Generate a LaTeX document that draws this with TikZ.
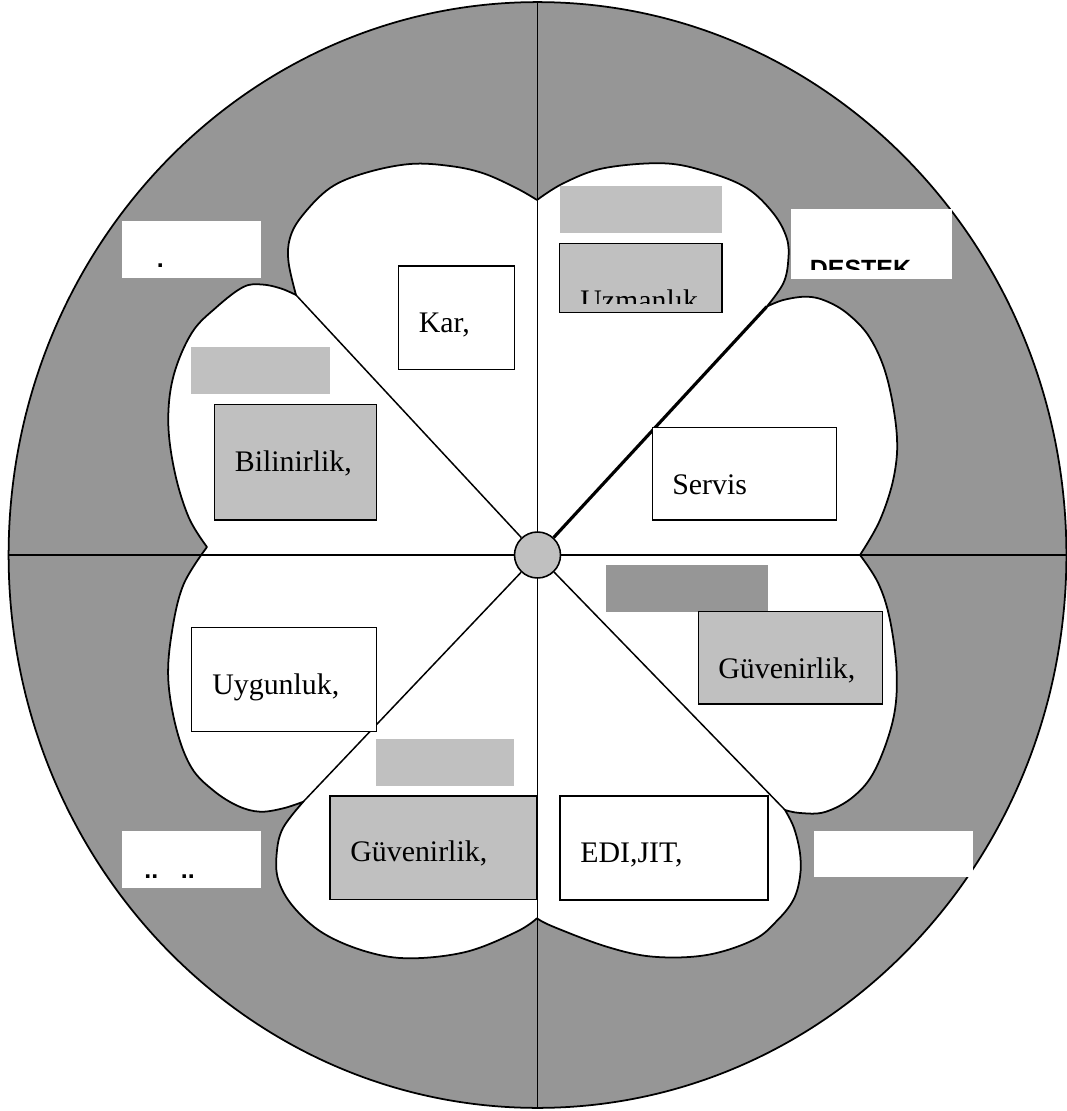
\documentclass[tikz,border=0pt]{standalone}
\usepackage{fontspec}
\setmainfont{Liberation Serif}
\newfontfamily\labelfont{Liberation Serif}
\newfontfamily\headfont{Liberation Sans}
\usetikzlibrary{fit}
\definecolor{ringgray}{RGB}{150,150,150}
\definecolor{panelgray}{RGB}{192,192,192}

\begin{document}
\begin{tikzpicture}[x=0.02cm, y=-0.02cm,
  outline/.style={line width=1pt, line join=round},
  spoke/.style={line width=0.85pt},
  boldspoke/.style={line width=1.8pt},
  tbox/.style={draw, line width=0.85pt, inner sep=0pt},
  graybox/.style={tbox, fill=panelgray},
  plainbox/.style={tbox, fill=white},
  lightbar/.style={fill=panelgray, inner sep=0pt},
  darkbar/.style={fill=ringgray, inner sep=0pt},
  tagbox/.style={fill=white, inner sep=0pt},
  lbl/.style={font=\labelfont\fontsize{17}{20}\selectfont, inner sep=0pt, anchor=base west},
  tag/.style={font=\headfont\bfseries\fontsize{14.2}{17}\selectfont, inner sep=0pt, anchor=base west},
]
\useasboundingbox (0,0) rectangle (1067,1111);

% outer ring
\filldraw[fill=ringgray, outline] (537.5,555) ellipse [x radius=10.58cm, y radius=11.06cm];

% eight-lobed flower
\filldraw[fill=white, outline] (296,295)
  -- plot[smooth, tension=0.6] coordinates {(296,295) (288.5,262) (290,238) (302,216) (330,188) (365,173) (410,164) (450,166) (483.3,173.3) (516.7,188.3) (537,200)}
  -- plot[smooth, tension=0.6] coordinates {(537,200) (563.3,183.3) (603.3,168.3) (663.3,163.3) (706.7,171.7) (746.7,188) (773.3,213.3) (786.7,238) (788.3,260) (783.3,283.3) (766.7,306.7)}
  -- plot[smooth, tension=0.6] coordinates {(766.7,306.7) (783.3,300) (806.7,296.7) (826,301) (848,314) (870,338) (886.7,376.7) (896.7,433.3) (894,476) (880,520) (860,555)}
  -- plot[smooth, tension=0.6] coordinates {(860,555) (878.3,583.3) (890,620) (896.7,673.3) (893,720) (875,770) (853.3,796.7) (825,812) (800,813) (785,810)}
  -- plot[smooth, tension=0.6] coordinates {(785,810) (794,828) (800,853.3) (800,876.7) (793.3,900) (776.7,921) (753.3,940) (706.7,955) (653.3,956.7) (606.7,946.7) (553.3,926.7) (537,918.3)}
  -- plot[smooth, tension=0.6] coordinates {(537,918.3) (516.7,931.7) (466.7,951.7) (410,958.3) (366.7,951.7) (323.3,933.3) (293.3,906.7) (278.3,880) (276.7,853.3) (283,828) (303.3,801.7)}
  -- plot[smooth, tension=0.6] coordinates {(303.3,801.7) (283.3,808.3) (260,811.7) (238,806) (214,791) (191.7,768) (176.7,730) (168.3,680) (171.7,633.3) (183.3,585) (207,547)}
  -- plot[smooth, tension=0.6] coordinates {(207,547) (189,518) (175,473.3) (168.3,423.3) (173.3,376.7) (191.7,333) (216.7,307) (243.3,287) (262,284.5) (281,288.5) (296,295)}
  -- cycle;

% end points of the axes and spokes
\coordinate (west)  at (8,555);
\coordinate (east)  at (1066,555);
\coordinate (north) at (537.5,2);
\coordinate (south) at (537.5,1108);
\coordinate (nUL) at (296,295);
\coordinate (nUR) at (766.7,306.7);
\coordinate (nLR) at (785,810);
\coordinate (nLL) at (303.3,801.7);

\draw[spoke] (west) -- (east);
\draw[spoke] (north) -- (south);

% hub and spokes
\node (hub) [circle, draw, fill=panelgray, line width=0.9pt, minimum size=0.92cm, inner sep=0pt] at (537.5,555) {};
\draw[spoke] (hub) -- (nUL);
\draw[boldspoke] (hub) -- (nUR);
\draw[spoke] (hub) -- (nLR);
\draw[spoke] (hub) -- (nLL);

% upper left
\node (tagUL) [tagbox, fit={(121.7,221) (261,277.7)}] {};
\node (dotUL) [tag] at (156.6,268) {.};
\node (barUL) [lightbar, fit={(191,347) (330,393.7)}] {};
\node (biliBox) [graybox, fit={(214.3,404.3) (376.7,520)}] {};
\node (bili) [lbl] at (234.5,471) {Bilinirlik,};
\node (karBox) [plainbox, fit={(398.3,266) (514.3,369.3)}] {};
\node (kar) [lbl] at (418.5,332.7) {Kar,};

% upper right
\node (barUR) [lightbar, fit={(560,185.7) (722,232.7)}] {};
\node (uzmBox) [graybox, fit={(559.3,243.3) (722,312.7)}] {};
\begin{scope}
  \clip (560,244) rectangle (721,303.3);
  \node (uzm) [lbl] at (580,310) {Uzmanlık};
\end{scope}
\node (tagUR) [tagbox, fit={(791,209) (951.7,279)}] {};
\begin{scope}
  \clip (791,209) rectangle (951.7,270);
  \node (destek) [tag] at (809.5,277) {DESTEK};
\end{scope}
\node (servBox) [plainbox, fit={(652.3,427.3) (836.7,520)}] {};
\node (serv) [lbl] at (672,494.3) {Servis};

% lower right
\node (barLR) [darkbar, fit={(606,565) (768,611.7)}] {};
\node (guvRBox) [graybox, fit={(698.3,611.7) (882.7,704)}] {};
\node (guvR) [lbl] at (718,678.3) {Güvenirlik,};
\node (ediBox) [plainbox, fit={(560,796) (768,900)}] {};
\node (edi) [lbl] at (580,862.7) {EDI,JIT,};
\node (tagLR) [tagbox, fit={(814,831) (973,877)}] {};

% lower left
\node (uygBox) [plainbox, fit={(191.7,627.3) (376.7,731.7)}] {};
\node (uyg) [lbl] at (212,694) {Uygunluk,};
\node (barLL) [lightbar, fit={(376,739.3) (514,785.7)}] {};
\node (guvLBox) [graybox, fit={(330,796) (536.7,899.3)}] {};
\node (guvL) [lbl] at (350,861.7) {Güvenirlik,};
\node (tagLL) [tagbox, fit={(121.7,831) (261,887.7)}] {};
\node (dotLLa) [tag] at (144,878) {..};
\node (dotLLb) [tag] at (180.5,878) {..};
\end{tikzpicture}
\end{document}
